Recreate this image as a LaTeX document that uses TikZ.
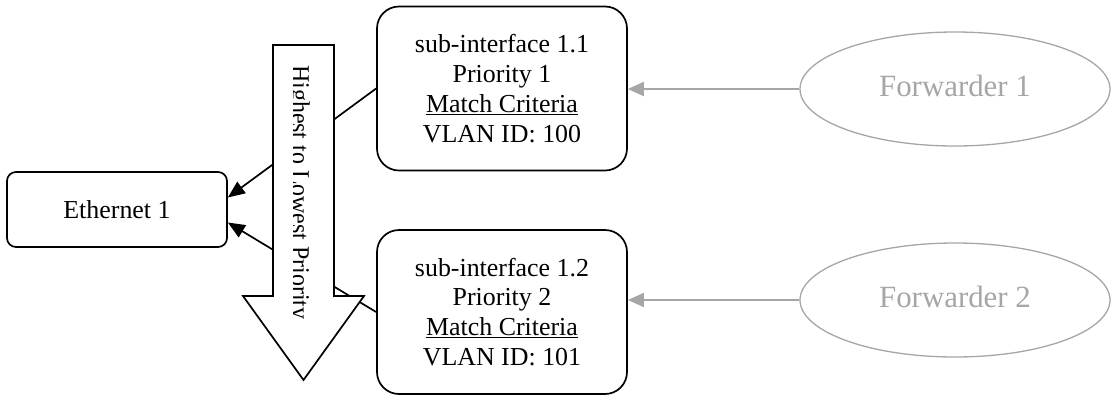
\documentclass[tikz,border=0pt]{standalone}
\usepackage{fontspec}
\setmainfont{Liberation Serif}
\usetikzlibrary{arrows.meta,shapes.geometric}
\definecolor{fwdgray}{HTML}{A6A6A6}
\begin{document}
\begin{tikzpicture}[x=1bp,y=-1bp,
  subbox/.style={draw,line width=1.7bp,rounded corners=22bp,align=center,
    font=\fontsize{26}{30}\selectfont,minimum width=250bp,minimum height=164bp,fill=white},
  ethbox/.style={draw,line width=1.7bp,rounded corners=9bp,
    font=\fontsize{26}{30}\selectfont,minimum width=220bp,minimum height=75bp},
  fwd/.style={ellipse,draw=fwdgray,line width=1.3bp,text=fwdgray,
    font=\fontsize{31}{36}\selectfont,minimum width=310bp,minimum height=114bp,inner sep=0pt},
  blk/.style={line width=1.7bp,-{Triangle[length=17bp,width=14bp]}},
  gry/.style={draw=fwdgray,line width=2bp,-{Triangle[length=16bp,width=14bp]}},
  bigarrow/.style={draw,line width=1.7bp,fill=white,line join=miter}
]
\useasboundingbox (0,0) rectangle (1114,396);

\node[ethbox] (eth) at (117,209.5) {Ethernet 1};
\node[subbox] (s1) at (502,88.5) {sub-interface 1.1\\Priority 1\\\underline{Match Criteria}\\VLAN ID: 100};
\node[subbox] (s2) at (502,312) {sub-interface 1.2\\Priority 2\\\underline{Match Criteria}\\VLAN ID: 101};
\node[fwd] (f1) at (955,89) {\raisebox{6bp}{Forwarder 1}};
\node[fwd] (f2) at (955,300) {\raisebox{6bp}{Forwarder 2}};

\draw[blk] (s1.west) -- ([yshift=12bp]eth.east);
\draw[blk] (s2.west) -- ([yshift=-13bp]eth.east);
\draw[gry] (f1.west) -- (f1.west -| s1.east);
\draw[gry] (f2.west) -- (f2.west -| s2.east);

\path[bigarrow] (273,45) -- (334,45) -- (334,296) -- (364,296) -- (303.5,380)
  -- (243,296) -- (273,296) -- cycle;
\begin{scope}
  \clip (293,50) rectangle (333,330);
  \node[rotate=-90,anchor=base west,inner sep=0pt,font=\fontsize{24}{28}\selectfont]
    (prio) at (291.5,65) {\scalebox{1}[1.1]{Highest to Lowest Priority}};
\end{scope}
\end{tikzpicture}
\end{document}
